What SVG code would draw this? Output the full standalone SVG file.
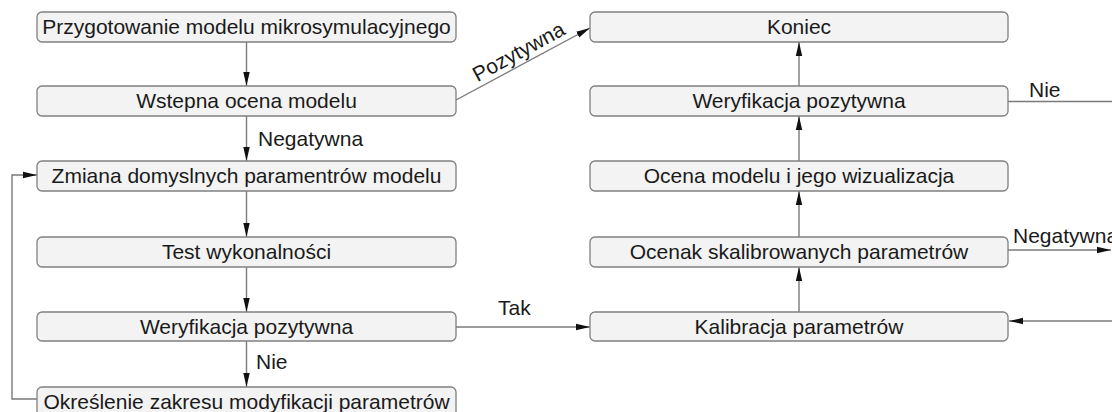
<svg xmlns="http://www.w3.org/2000/svg" width="1112" height="412" viewBox="0 0 1112 412">
<style>
.box{fill:#f3f3f3;stroke:#808080;stroke-width:1.3}
.t{font-family:"Liberation Sans",Arial,sans-serif;font-size:21px;fill:#1a1a1a;text-anchor:middle}
.l{font-family:"Liberation Sans",Arial,sans-serif;font-size:21px;fill:#1a1a1a}
.c{fill:none;stroke:#7a7a7a;stroke-width:1.4}
</style>
<defs>
<marker id="ah" markerUnits="userSpaceOnUse" markerWidth="15" markerHeight="9" refX="14" refY="4" orient="auto">
<path d="M0,0.8 L14,4 L0,7.2 z" fill="#111"/>
</marker>
</defs>
<rect width="1112" height="412" fill="#fff"/>
<g id="connectors">
<path class="c" d="M246.5,42 V86" marker-end="url(#ah)"/>
<path class="c" d="M246.5,116 V161" marker-end="url(#ah)"/>
<path class="c" d="M246.5,191 V237" marker-end="url(#ah)"/>
<path class="c" d="M246.5,267 V312" marker-end="url(#ah)"/>
<path class="c" d="M246.5,341 V387" marker-end="url(#ah)"/>
<path class="c" d="M37,399 H12 V175 H37" marker-end="url(#ah)"/>
<path class="c" d="M456,100 L590,28" marker-end="url(#ah)"/>
<path class="c" d="M456,327 H590" marker-end="url(#ah)"/>
<path class="c" d="M799,312 V267" marker-end="url(#ah)"/>
<path class="c" d="M799,237 V191" marker-end="url(#ah)"/>
<path class="c" d="M799,161 V116" marker-end="url(#ah)"/>
<path class="c" d="M799,86 V42" marker-end="url(#ah)"/>
<path class="c" d="M1008,101.5 H1112"/>
<path class="c" d="M1008,250 H1111" marker-end="url(#ah)"/>
<path class="c" d="M1112,321 H1009" marker-end="url(#ah)"/>
<text class="l" x="258" y="146">Negatywna</text>
<text class="l" x="256" y="369">Nie</text>
<text class="l" x="498" y="315">Tak</text>
<text class="l" x="1029" y="97">Nie</text>
<text class="l" x="1013" y="243">Negatywna</text>
<text class="l" x="0" y="0" text-anchor="middle" transform="translate(522,58) rotate(-28.5)">Pozytywna</text>
</g>
<g id="n1"><rect class="box" x="37" y="12" width="419" height="30" rx="5"/><text class="t" x="246.5" y="34">Przygotowanie modelu mikrosymulacyjnego</text></g>
<g id="n2"><rect class="box" x="37" y="86" width="419" height="30" rx="5"/><text class="t" x="246.5" y="108">Wstepna ocena modelu</text></g>
<g id="n3"><rect class="box" x="37" y="161" width="419" height="30" rx="5"/><text class="t" x="246.5" y="183">Zmiana domyslnych paramentrów modelu</text></g>
<g id="n4"><rect class="box" x="37" y="237" width="419" height="30" rx="5"/><text class="t" x="246.5" y="259">Test wykonalności</text></g>
<g id="n5"><rect class="box" x="37" y="312" width="419" height="29" rx="5"/><text class="t" x="246.5" y="334">Weryfikacja pozytywna</text></g>
<g id="n6"><rect class="box" x="37" y="387" width="419" height="30" rx="5"/><text class="t" x="246.5" y="409">Określenie zakresu modyfikacji parametrów</text></g>
<g id="n7"><rect class="box" x="590" y="12" width="418" height="30" rx="5"/><text class="t" x="799" y="34">Koniec</text></g>
<g id="n8"><rect class="box" x="590" y="86" width="418" height="30" rx="5"/><text class="t" x="799" y="108">Weryfikacja pozytywna</text></g>
<g id="n9"><rect class="box" x="590" y="161" width="418" height="30" rx="5"/><text class="t" x="799" y="183">Ocena modelu i jego wizualizacja</text></g>
<g id="n10"><rect class="box" x="590" y="237" width="418" height="30" rx="5"/><text class="t" x="799" y="259">Ocenak skalibrowanych parametrów</text></g>
<g id="n11"><rect class="box" x="590" y="312" width="418" height="29" rx="5"/><text class="t" x="799" y="334">Kalibracja parametrów</text></g>
</svg>
